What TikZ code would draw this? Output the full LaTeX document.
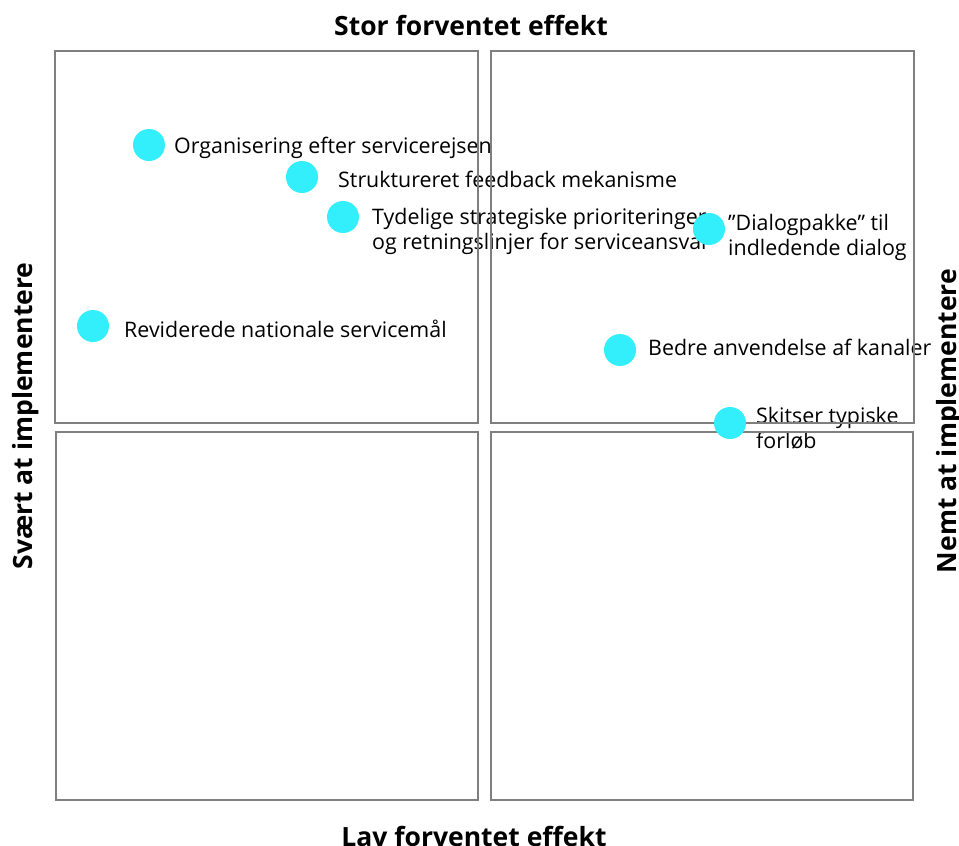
\documentclass[tikz,border=0pt]{standalone}
\usepackage{fontspec}
\setmainfont{Open Sans}
\usetikzlibrary{positioning}
\definecolor{dotcyan}{HTML}{33EEFB}
\definecolor{boxgray}{HTML}{7F7F7F}

\begin{document}
\begin{tikzpicture}[x=1pt,y=-1pt,
    quad/.style={draw=boxgray,line width=2.5pt},
    effdot/.style={circle,fill=dotcyan,minimum size=32pt,inner sep=0pt},
    lbl/.style={anchor=base west,inner sep=0pt,align=left,font=\fontsize{21.4}{25}\selectfont},
    axis/.style={anchor=base,inner sep=0pt,font=\fontsize{26.5}{30}\selectfont\bfseries}]
            \useasboundingbox (0,0) rectangle (959,846);

            % akser
            \node[axis] (top) at (471,35) {Stor forventet effekt};
            \node[axis] (bund) at (474,846) {Lav forventet effekt};
            \node[axis,rotate=90] (venstre) at (32,416) {Svært at implementere};
            \node[axis,rotate=90] (hoejre) at (956,421) {Nemt at implementere};

            % tekster (base = sidste linje)
            \node[lbl] (torg) at (174,153) {Organisering efter servicerejsen};
            \node[lbl] (tstruk) at (338,187) {Struktureret feedback mekanisme};
            \node[lbl] (ttyd) at (372,249) {Tydelige strategiske prioriteringer\\og retningslinjer for serviceansvar};
            \node[lbl] (tdia) at (728,255) {”Dialogpakke” til\\indledende dialog};
            \node[lbl] (trev) at (124,337) {Reviderede nationale servicemål};
            \node[lbl] (tbed) at (648,355) {Bedre anvendelse af kanaler};
            \node[lbl] (tski) at (756,448) {Skitser typiske\\forløb};

            % kvadranter
            \draw[quad] (55,51) rectangle (478,423);
            \draw[quad] (491,51) rectangle (914,423);
            \draw[quad] (56,432) rectangle (478,800);
            \draw[quad] (491,432) rectangle (913,800);

            % punkter
            \node[effdot] (org) at (149,145) {};
            \node[effdot] (struk) at (302,177) {};
            \node[effdot] (tyd) at (343,217) {};
            \node[effdot] (dia) at (709,229) {};
            \node[effdot] (rev) at (93,326) {};
            \node[effdot] (bed) at (620,350) {};
            \node[effdot] (ski) at (730,423) {};

\end{tikzpicture}
\end{document}
